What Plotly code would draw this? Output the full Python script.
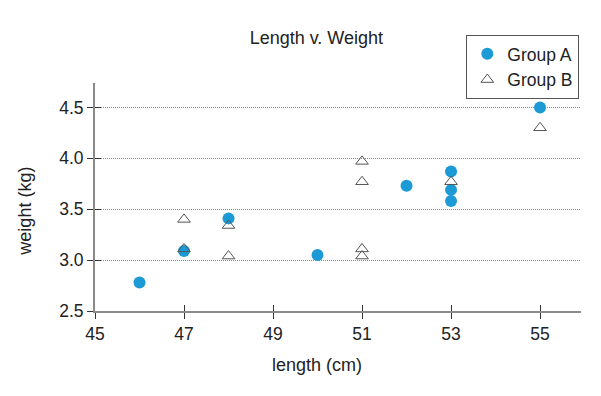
import plotly.graph_objects as go

# Data
group_a_length = [46, 47, 48, 50, 52, 53, 53, 53, 55]
group_a_weight = [2.78, 3.09, 3.41, 3.05, 3.73, 3.87, 3.69, 3.58, 4.50]
group_b_length = [47, 47, 48, 48, 51, 51, 51, 51, 53, 55]
group_b_weight = [3.40, 3.11, 3.34, 3.04, 3.97, 3.77, 3.11, 3.04, 3.77, 4.30]
x_ticks = [45, 47, 49, 51, 53, 55]
y_ticks = [2.5, 3.0, 3.5, 4.0, 4.5]
y_tick_labels = ["2.5", "3.0", "3.5", "4.0", "4.5"]

FONT = "Liberation Sans, Arial, Helvetica, sans-serif"
TXT = "#222222"
X_RANGE = [45, 55.92]
Y_RANGE = [2.5, 4.74]

fig = go.Figure()
fig.add_trace(go.Scatter(
    x=group_a_length, y=group_a_weight, mode="markers", name="Group A",
    marker=dict(symbol="circle", size=12, color="#1b9ad6", line=dict(width=0)),
))
fig.add_trace(go.Scatter(
    x=group_b_length, y=group_b_weight, mode="markers", name="Group B",
    marker=dict(symbol="triangle-up-open", size=11, color="#555555", line=dict(width=1)),
))

axis_common = dict(showline=True, linecolor="#8a8a8a", linewidth=2, zeroline=False,
                   ticklen=6, tickcolor="#333333", tickwidth=1,
                   tickfont=dict(family=FONT, size=17.5, color=TXT))

fig.update_layout(
    width=593, height=388,
    margin=dict(l=87, r=20, t=75, b=85),
    paper_bgcolor="white", plot_bgcolor="white",
    font=dict(family=FONT, size=17, color=TXT),
    title=dict(text="Length v. Weight", font=dict(family=FONT, size=18, color=TXT),
               x=0.520, xref="container", xanchor="center",
               y=0.9227, yref="container", yanchor="middle"),
    showlegend=True,
    legend=dict(x=0.9965, xanchor="right", y=1.2108, yanchor="top",
                bordercolor="#555555", borderwidth=1, bgcolor="white",
                font=dict(family=FONT, size=17.5, color=TXT),
                tracegroupgap=0, itemwidth=30),
    xaxis=dict(range=X_RANGE, tickvals=x_ticks, ticks="outside", showgrid=False,
               **axis_common),
    yaxis=dict(range=Y_RANGE, tickvals=y_ticks, ticktext=y_tick_labels, ticks="outside",
               showgrid=True, gridcolor="#8a8a8a", gridwidth=1, griddash="1px,1px",
               **axis_common),
    # overlay axes to make ticks cross the axis lines
    xaxis2=dict(range=X_RANGE, tickvals=x_ticks, ticks="inside", ticklen=6,
                tickcolor="#333333", tickwidth=1, showticklabels=False, showgrid=False,
                zeroline=False, showline=False, overlaying="x", side="bottom"),
    yaxis2=dict(range=Y_RANGE, tickvals=y_ticks, ticks="inside", ticklen=6,
                tickcolor="#333333", tickwidth=1, showticklabels=False, showgrid=False,
                zeroline=False, showline=False, overlaying="y", side="left"),
    annotations=[
        dict(text="length (cm)", xref="paper", yref="paper", x=0.4568, y=-0.2385,
             xanchor="center", yanchor="middle", showarrow=False,
             font=dict(family=FONT, size=18, color=TXT)),
        dict(text="weight (kg)", xref="paper", yref="paper", x=-0.143, y=0.438,
             xanchor="center", yanchor="middle", showarrow=False, textangle=-90,
             font=dict(family=FONT, size=18, color=TXT)),
    ],
)
# invisible trace to activate overlay axes
fig.add_trace(go.Scatter(x=[X_RANGE[0]], y=[Y_RANGE[0]], xaxis="x2", yaxis="y2",
                         mode="markers", marker=dict(opacity=0), showlegend=False,
                         hoverinfo="skip"))

fig.write_html("out.html")
